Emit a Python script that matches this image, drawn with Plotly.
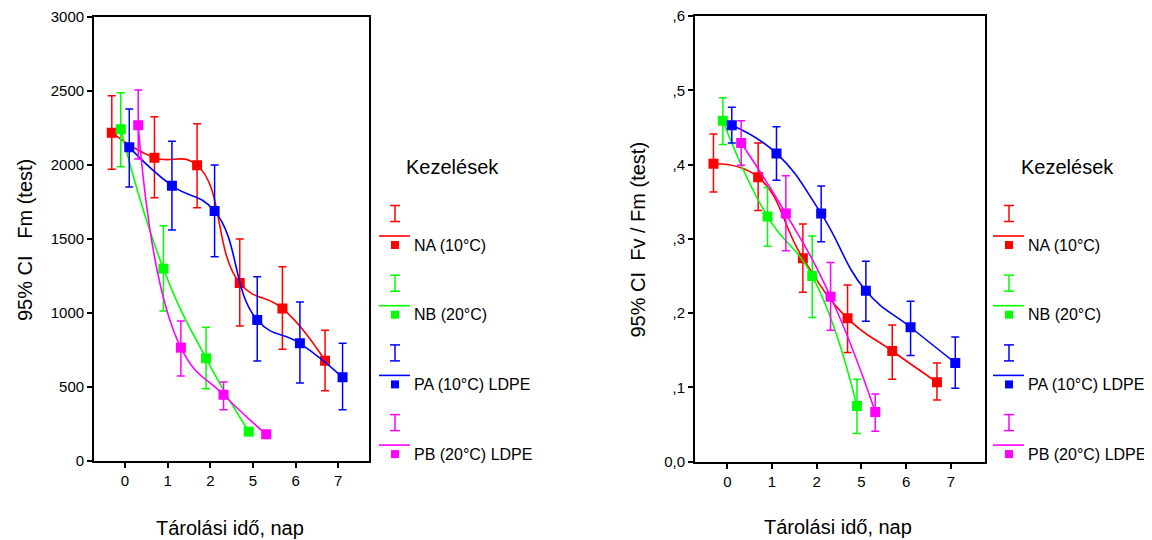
import plotly.graph_objects as go

# The page body adds an 8 px margin, so the figure is sized to end exactly at the window edge
OFF = 8
W, H = 1152 - OFF, 540 - OFF

days = ["0", "1", "2", "5", "6", "7"]
series_names = ["NA (10°C)", "NB (20°C)", "PA (10°C) LDPE", "PB (20°C) LDPE"]
series_colors = ["#FF0000", "#00FF00", "#0000FF", "#FF00FF"]
series_offsets = [-0.31, -0.10, 0.10, 0.31]

# Fm (test): mean, upper and lower 95% CI
na_fm = [2216, 2047, 1996, 1201, 1030, 677]
na_fm_hi = [2465, 2324, 2276, 1498, 1311, 882]
na_fm_lo = [1969, 1777, 1710, 911, 754, 474]
nb_fm = [2239, 1298, 693, 198]
nb_fm_hi = [2486, 1588, 902, None]
nb_fm_lo = [1986, 1012, 488, None]
pa_fm = [2117, 1858, 1687, 952, 794, 565]
pa_fm_hi = [2376, 2158, 1998, 1244, 1073, 794]
pa_fm_lo = [1849, 1559, 1379, 675, 526, 346]
pb_fm = [2266, 765, 447, 180]
pb_fm_hi = [2504, 945, 533, None]
pb_fm_lo = [2038, 574, 346, None]

# Fv/Fm (test)
na_fv = [0.401, 0.383, 0.274, 0.193, 0.149, 0.107]
na_fv_hi = [0.441, 0.429, 0.320, 0.238, 0.184, 0.133]
na_fv_lo = [0.363, 0.338, 0.228, 0.147, 0.111, 0.083]
nb_fv = [0.459, 0.330, 0.250, 0.075]
nb_fv_hi = [0.490, 0.369, 0.304, 0.111]
nb_fv_lo = [0.427, 0.290, 0.194, 0.038]
pa_fv = [0.453, 0.415, 0.334, 0.230, 0.181, 0.133]
pa_fv_hi = [0.477, 0.451, 0.371, 0.270, 0.216, 0.168]
pa_fv_lo = [0.429, 0.379, 0.296, 0.189, 0.143, 0.099]
pb_fv = [0.429, 0.334, 0.222, 0.067]
pb_fv_hi = [0.459, 0.385, 0.268, 0.091]
pb_fv_lo = [0.399, 0.284, 0.177, 0.041]

fm_ticks = [0, 500, 1000, 1500, 2000, 2500, 3000]
fv_ticks = [0.0, 0.1, 0.2, 0.3, 0.4, 0.5, 0.6]
fv_ticktext = ["0,0", ",1", ",2", ",3", ",4", ",5", ",6"]

FONT = "Arial, Liberation Sans, sans-serif"

fm_sets = [(na_fm, na_fm_hi, na_fm_lo), (nb_fm, nb_fm_hi, nb_fm_lo),
           (pa_fm, pa_fm_hi, pa_fm_lo), (pb_fm, pb_fm_hi, pb_fm_lo)]
fv_sets = [(na_fv, na_fv_hi, na_fv_lo), (nb_fv, nb_fv_hi, nb_fv_lo),
           (pa_fv, pa_fv_hi, pa_fv_lo), (pb_fv, pb_fv_hi, pb_fv_lo)]


def px(x):
    return (x - OFF) / W


def py(y):
    return 1 - (y - OFF) / H


fig = go.Figure()


def add_series(sets, xa, ya):
    for (vals, hi, lo), name, col, off in zip(sets, series_names, series_colors, series_offsets):
        xs = [i + off for i in range(len(vals))]
        plus = [None if h is None else h - v for h, v in zip(hi, vals)]
        minus = [None if l is None else v - l for l, v in zip(lo, vals)]
        fig.add_trace(go.Scatter(
            x=xs, y=vals, xaxis=xa, yaxis=ya, name=name, showlegend=False,
            mode="lines+markers",
            line=dict(color=col, width=1.6, shape="spline", smoothing=1.3),
            marker=dict(symbol="square", size=10, color=col),
            error_y=dict(type="data", array=plus, arrayminus=minus, symmetric=False,
                         color=col, thickness=1.5, width=4, visible=True),
        ))


add_series(fm_sets, "x", "y")
add_series(fv_sets, "x2", "y2")

axis_common = dict(showline=True, linecolor="black", linewidth=1.8, mirror=True,
                   ticks="outside", ticklen=5, tickwidth=1.5, tickcolor="black",
                   showgrid=False, zeroline=False, automargin=False,
                   ticklabeloverflow="allow",
                   tickfont=dict(family=FONT, size=15, color="black"))

fig.update_layout(
    width=W, height=H, autosize=False,
    margin=dict(l=0, r=0, t=0, b=0, pad=0, autoexpand=False),
    paper_bgcolor="white", plot_bgcolor="white",
    xaxis=dict(domain=[px(94), px(369.3)], range=[-0.727, 5.727],
               tickvals=list(range(len(days))), ticktext=days, anchor="y", **axis_common),
    yaxis=dict(domain=[py(461), py(16.5)], range=[0, 3000],
               tickvals=fm_ticks, anchor="x", **axis_common),
    xaxis2=dict(domain=[px(695), px(985)], range=[-0.723, 5.765],
                tickvals=list(range(len(days))), ticktext=days, anchor="y2", **axis_common),
    yaxis2=dict(domain=[py(461.7), py(16)], range=[0, 0.6],
                tickvals=fv_ticks, ticktext=fv_ticktext, anchor="x2", **axis_common),
    showlegend=False,
)

annotations = [
    dict(text="95% CI   Fm (test)", x=px(25), y=py(240), textangle=-90),
    dict(text="95% CI  Fv / Fm (test)", x=px(637.5), y=py(240), textangle=-90),
    dict(text="Tárolási idő, nap", x=px(230), y=py(528)),
    dict(text="Tárolási idő, nap", x=px(838), y=py(527)),
    dict(text="Kezelések", x=px(452.5), y=py(167)),
    dict(text="Kezelések", x=px(1067.5), y=py(167)),
]
annotations = [dict(a, xref="paper", yref="paper", showarrow=False,
                    xanchor="center", yanchor="middle",
                    font=dict(family=FONT, size=20, color="black")) for a in annotations]

shapes = []
legend_left = [395, 1009]
entry_step = 69.7
for lx in legend_left:
    for i, (name, col) in enumerate(zip(series_names, series_colors)):
        ic = 213.5 + entry_step * i
        ly = 236 + entry_step * i
        my = 245 + entry_step * i
        # I-shaped error bar symbol
        shapes.append(dict(type="line", xref="paper", yref="paper", x0=px(lx), x1=px(lx),
                           y0=py(ic - 8), y1=py(ic + 8), line=dict(color=col, width=1.5)))
        for yy in (ic - 8, ic + 8):
            shapes.append(dict(type="line", xref="paper", yref="paper", x0=px(lx - 5), x1=px(lx + 5),
                               y0=py(yy), y1=py(yy), line=dict(color=col, width=1.5)))
        # line sample
        shapes.append(dict(type="line", xref="paper", yref="paper", x0=px(lx - 16), x1=px(lx + 15),
                           y0=py(ly), y1=py(ly), line=dict(color=col, width=1.6)))
        # marker sample
        shapes.append(dict(type="rect", xref="paper", yref="paper", x0=px(lx - 4), x1=px(lx + 4),
                           y0=py(my - 4), y1=py(my + 4), fillcolor=col, line=dict(width=0)))
        annotations.append(dict(text=name, xref="paper", yref="paper", x=px(lx + 17), y=py(my),
                                xanchor="left", yanchor="middle", showarrow=False,
                                font=dict(family=FONT, size=16, color="black")))

fig.update_layout(annotations=annotations, shapes=shapes)

fig.write_html("out.html")
